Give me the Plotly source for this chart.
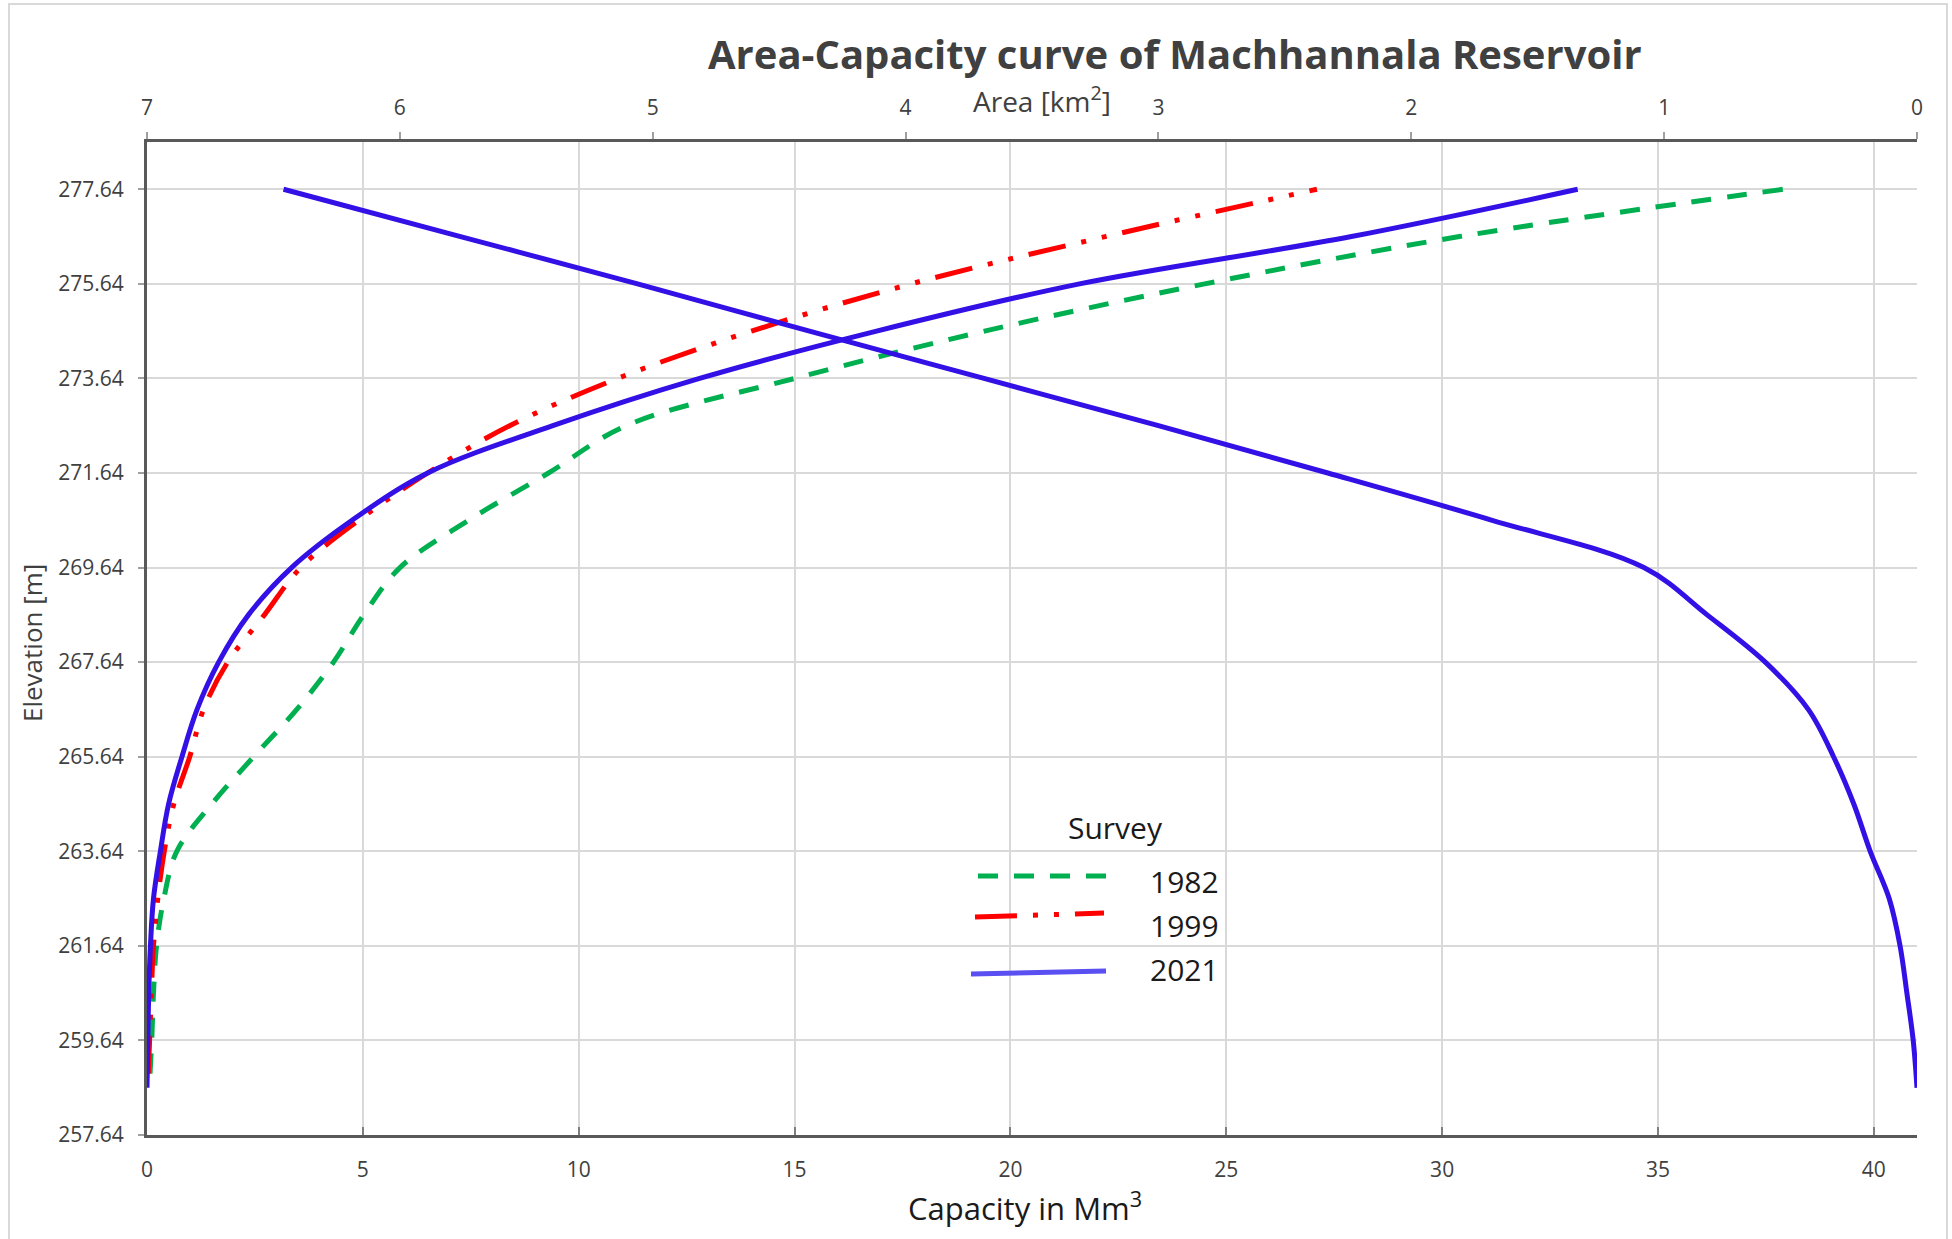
import plotly.graph_objects as go

# ---- survey data -------------------------------------------------------
elev_1982 = [258.94, 259.64, 260.64, 261.64, 262.64, 263.64, 264.64, 265.64, 266.64, 267.64,
             268.64, 269.64, 270.64, 271.64, 272.64, 273.64, 274.64, 275.64, 276.64, 277.64]
cap_1982 = [0.07, 0.11, 0.15, 0.22, 0.39, 0.69, 1.50, 2.47, 3.47, 4.32,
            5.02, 5.86, 7.45, 9.30, 11.1, 15.0, 19.4, 24.5, 30.4, 37.9]

elev_1999 = [258.94, 259.64, 260.64, 261.64, 262.64, 263.64, 264.64, 265.64, 266.64, 267.64,
             268.64, 269.64, 270.64, 271.64, 272.64, 273.64, 274.64, 275.64, 276.64, 277.64]
cap_1999 = [0.03, 0.06, 0.10, 0.15, 0.25, 0.40, 0.62, 0.99, 1.31, 1.87,
            2.72, 3.56, 4.90, 6.50, 8.40, 10.9, 14.0, 17.7, 22.2, 27.1]

elev_2021 = [258.64, 259.64, 260.64, 261.64, 262.64, 263.64, 264.64, 265.64, 266.64, 267.64,
             268.64, 269.64, 270.64, 271.64, 272.64, 273.64, 274.64, 275.64, 276.64, 277.64]
cap_2021 = [0.00, 0.02, 0.04, 0.08, 0.15, 0.31, 0.50, 0.81, 1.16, 1.66,
            2.35, 3.35, 4.75, 6.50, 9.40, 12.8, 16.9, 21.6, 27.9, 33.14]
area_2021 = [0.000, 0.015, 0.040, 0.067, 0.110, 0.185, 0.250, 0.330, 0.430, 0.600,
             0.830, 1.080, 1.680, 2.330, 3.000, 3.690, 4.380, 5.060, 5.760, 6.460]

elev_ticks = [257.64 + 2 * i for i in range(11)]
cap_ticks = [0, 5, 10, 15, 20, 25, 30, 35, 40]
area_ticks = [0, 1, 2, 3, 4, 5, 6, 7]

survey_labels = ["1982", "1999", "2021"]

GREEN = "#00b050"
RED = "#ff0000"
BLUE = "#3210e6"
FONT = "Open Sans"

W, H = 1952, 1239
L, R, T, B = 147, 35, 142, 104
PW, PH = W - L - R, H - T - B


def px(x, y):
    """Pixel position -> paper coordinates."""
    return (x - L) / PW, (H - B - y) / PH


SMOOTH = 1.0

fig = go.Figure()

fig.add_trace(go.Scatter(
    x=cap_1982, y=elev_1982, mode="lines", name=survey_labels[0],
    line=dict(color=GREEN, width=5, dash="20px,16px", shape="spline", smoothing=SMOOTH),
    xaxis="x", yaxis="y"))
fig.add_trace(go.Scatter(
    x=cap_1999, y=elev_1999, mode="lines", name=survey_labels[1],
    line=dict(color=RED, width=5, dash="38px,16px,5px,16px,5px,16px", shape="spline",
              smoothing=SMOOTH),
    xaxis="x", yaxis="y"))
fig.add_trace(go.Scatter(
    x=cap_2021, y=elev_2021, mode="lines", name=survey_labels[2],
    line=dict(color=BLUE, width=5, shape="spline", smoothing=SMOOTH),
    xaxis="x", yaxis="y"))
fig.add_trace(go.Scatter(
    x=area_2021, y=elev_2021, mode="lines", name=survey_labels[2] + " area",
    line=dict(color=BLUE, width=5, shape="spline", smoothing=SMOOTH),
    xaxis="x2", yaxis="y"))

tickfont = dict(family=FONT, size=21, color="#404040")
axis_line = "#595959"
grid = "#d9d9d9"

fig.update_layout(
    width=W, height=H,
    margin=dict(l=L, r=R, t=T, b=B),
    paper_bgcolor="white", plot_bgcolor="white",
    showlegend=False,
    xaxis=dict(range=[0, 41], tickvals=cap_ticks, ticks="inside", ticklen=8, tickwidth=2,
               tickcolor="#7f7f7f", showline=True, linecolor=axis_line, linewidth=3,
               showgrid=True, gridcolor=grid, gridwidth=1.5, zeroline=False,
               tickfont=tickfont, ticklabelstandoff=14, anchor="y"),
    xaxis2=dict(range=[7, 0], tickvals=area_ticks, ticks="outside", ticklen=7, tickwidth=2,
                tickcolor="#a0a0a0", showline=True, linecolor=axis_line, linewidth=3,
                showgrid=False, zeroline=False, overlaying="x", side="top", anchor="y",
                tickfont=tickfont, ticklabelstandoff=9),
    yaxis=dict(range=[257.64, 278.64], tickvals=elev_ticks,
               ticktext=[f"{v:.2f}" for v in elev_ticks], ticks="outside", ticklen=6,
               tickwidth=2, tickcolor="#a0a0a0", showline=True, linecolor=axis_line,
               linewidth=3, showgrid=True, gridcolor=grid, gridwidth=1.5, zeroline=False,
               tickfont=tickfont, ticklabelstandoff=10),
    yaxis2=dict(range=[257.64, 278.64], overlaying="y", side="right", showline=True,
                linecolor="black", linewidth=4, showticklabels=False, ticks="",
                showgrid=False, zeroline=False),
)

annotations = []


def note(text, x, y, size, color="#1a1a1a", angle=0, bold=False):
    xp, yp = px(x, y)
    annotations.append(dict(
        text=f"<b>{text}</b>" if bold else text, x=xp, y=yp, xref="paper", yref="paper",
        xanchor="center", yanchor="middle", showarrow=False, textangle=angle,
        font=dict(family=FONT, size=size, color=color)))


note("Area-Capacity curve of Machhannala Reservoir", 1175, 54, 40, color="#404040", bold=True)
note("Area [km<sup>2</sup>]", 1042, 100, 28, color="#404040")
note("Capacity in Mm<sup>3</sup>", 1025, 1206, 31)
note("Elevation [m]", 32, 643, 26, color="#404040", angle=-90)

# legend block
note("Survey", 1115, 827, 30)
legend_rows = [
    (survey_labels[0], GREEN, "20px,16px", (978, 876, 1112, 876), 881),
    (survey_labels[1], RED, "42px,16px,5px,16px,5px,16px", (975, 917, 1104, 913), 925),
    (survey_labels[2], "#5a50f2", "solid", (971, 974, 1106, 971), 969),
]
shapes = []
for label, color, dash, (x0, y0, x1, y1), ty in legend_rows:
    p0 = px(x0, y0)
    p1 = px(x1, y1)
    shapes.append(dict(type="line", xref="paper", yref="paper", x0=p0[0], y0=p0[1],
                       x1=p1[0], y1=p1[1], line=dict(color=color, width=5, dash=dash)))
    note(label, 1184, ty, 30)

# outer chart frame
f0 = px(9, 1245)
f1 = px(1947, 4)
shapes.append(dict(type="rect", xref="paper", yref="paper", x0=f0[0], y0=f0[1],
                   x1=f1[0], y1=f1[1], line=dict(color="#d9d9d9", width=2), layer="below"))

fig.update_layout(annotations=annotations, shapes=shapes)

fig.write_html("out.html")
